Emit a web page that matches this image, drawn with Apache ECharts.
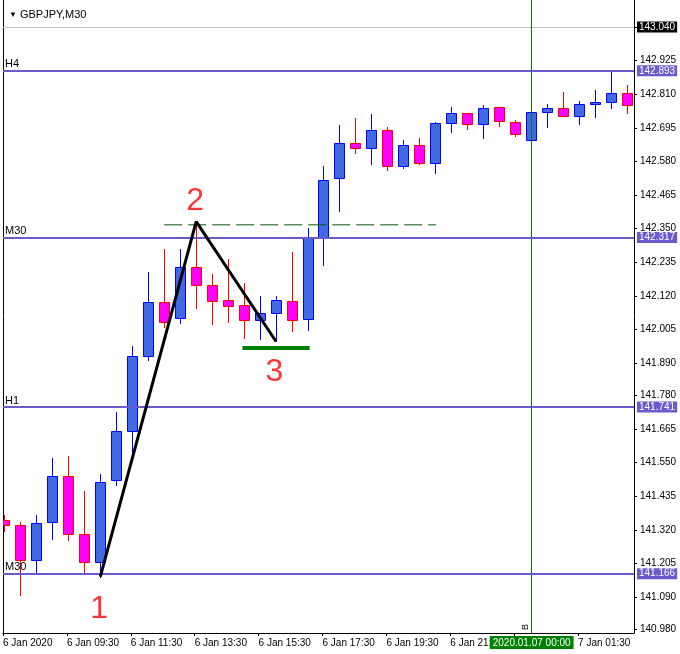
<!DOCTYPE html>
<html><head><meta charset="utf-8">
<script src="https://cdn.jsdelivr.net/npm/echarts@6/dist/echarts.min.js"></script>
<style>html,body{margin:0;padding:0;background:#fff}#c{width:680px;height:654px}</style>
</head><body><div id="c"></div><script>
const FONT = "'Liberation Sans',Arial,sans-serif";
const FS = 10;

// M30 bars, index 0 = 6 Jan 07:30
const opens  = [141.352,141.336,141.216,141.345,141.504,141.305,141.209,141.492,141.657,141.914,142.098,142.044,142.218,142.157,142.106,142.088,142.036,142.061,142.102,142.041,142.319,142.523,142.642,142.625,142.687,142.564,142.635,142.574,142.711,142.745,142.707,142.765,142.714,142.653,142.748,142.762,142.735,142.778,142.782,142.813];
const closes = [141.337,141.216,141.343,141.504,141.305,141.209,141.483,141.657,141.914,142.098,142.030,142.218,142.157,142.101,142.087,142.036,142.061,142.105,142.039,142.318,142.516,142.642,142.625,142.687,142.564,142.635,142.574,142.711,142.745,142.707,142.762,142.717,142.673,142.748,142.762,142.735,142.776,142.782,142.813,142.772];
const lows   = [141.316,141.097,141.177,141.289,141.286,141.173,141.160,141.474,141.587,141.901,142.015,142.027,142.077,142.025,142.031,141.977,141.974,141.964,142.001,142.005,142.226,142.412,142.607,142.572,142.552,142.559,142.572,142.542,142.679,142.692,142.661,142.702,142.668,142.652,142.696,142.734,142.707,142.733,142.761,142.747];
const highs  = [141.371,141.345,141.371,141.566,141.573,141.453,141.511,141.723,141.949,142.202,142.281,142.281,142.370,142.195,142.247,142.165,142.120,142.120,142.271,142.353,142.565,142.705,142.729,142.742,142.698,142.654,142.660,142.715,142.766,142.746,142.772,142.766,142.721,142.749,142.777,142.818,142.786,142.825,142.890,142.842];

const tickBars   = [0,4,8,12,16,20,24,28,32,36];
const tickLabels = ['6 Jan 2020','6 Jan 09:30','6 Jan 11:30','6 Jan 13:30','6 Jan 15:30','6 Jan 17:30','6 Jan 19:30','6 Jan 21:30','6 Jan 23:30','7 Jan 01:30'];
const priceTicks = [140.980,141.090,141.205,141.320,141.435,141.550,141.665,141.780,141.890,142.005,142.120,142.235,142.350,142.465,142.580,142.695,142.810,142.925,143.040];

const levelNames  = ['H4','M30','H1','M30'];
const levelValues = [142.893,142.317,141.741,141.166];
const lastPrice = 143.040;

const vlineBar = 33;
const vlineText = '2020.01.07 00:00';
const vlineName = 'B';

const zigzagBars   = [6,12,17];
const zigzagPrices = [141.160,142.374,141.964];
const dashBars  = [10,27];
const dashPrice = 142.363;
const supportBars  = [14.9,19.1];
const supportPrice = 141.942;
const waveTexts  = ['1','2','3'];
const waveBars   = [5.92,11.94,16.9];
const wavePrices = [141.050,142.445,141.860];

const X_MIN = -0.09375, X_MAX = 39.40625, TICK_SHIFT = -0.09375;
const Y_MIN = 140.967, Y_MAX = 143.132;
const CLEAR = 'rgba(0,0,0,0)';

const candleData = opens.map((o,i)=>[i,o,closes[i],lows[i],highs[i]]);

function renderCandle(params, api){
  const i=api.value(0), o=api.value(1), c=api.value(2), l=api.value(3), h=api.value(4);
  const pO=api.coord([i,o]), pC=api.coord([i,c]), pL=api.coord([i,l]), pH=api.coord([i,h]);
  const cx=Math.floor(pO[0])+0.5;
  const bull=c>=o;
  const stroke=bull?'#0000FF':'#FF0000';
  const fill=bull?'#4169E1':'#FF00FF';
  const top=Math.round(Math.min(pO[1],pC[1]))+0.5;
  const bot=Math.round(Math.max(pO[1],pC[1]))+0.5;
  const cs=params.coordSys;
  const rect=echarts.graphic.clipRectByRect({x:cx-5,y:top,width:10,height:Math.max(bot-top,0)},{x:cs.x,y:cs.y,width:cs.width,height:cs.height});
  const children=[{type:'line',shape:{x1:cx,y1:Math.round(pH[1]),x2:cx,y2:Math.round(pL[1])+1},style:{stroke:stroke,lineWidth:1}}];
  if(rect) children.push({type:'rect',shape:rect,style:{fill:fill,stroke:stroke,lineWidth:1}});
  return {type:'group',children:children};
}

const boxLabel = (text,bg)=>({show:true,position:'end',formatter:text,backgroundColor:bg,color:'#fff',
  padding:[1,2,0,2],distance:3,fontSize:FS,fontFamily:FONT});

const levelLines = levelValues.map((v,k)=>({yAxis:v,
  label:{show:true,position:'insideStartTop',formatter:levelNames[k],color:'#000',fontSize:11,fontFamily:FONT,distance:[2,1]}}));
const boxMarks = [{yAxis:lastPrice,label:boxLabel(lastPrice.toFixed(3),'#000')}]
  .concat(levelValues.map(v=>({yAxis:v,label:boxLabel(v.toFixed(3),'#6A5ACD')})))
  .concat([{xAxis:vlineBar,label:{show:true,position:'start',formatter:vlineText,backgroundColor:'#008000',color:'#fff',padding:[2,3,1,3],distance:3,fontSize:FS,fontFamily:FONT}},
           {xAxis:vlineBar,label:{show:true,position:'insideStartTop',formatter:vlineName,color:'#000',fontSize:9,fontFamily:FONT,distance:[3,2]}}]);

const option = {
  animation:false,
  backgroundColor:'#fff',
  title:{text:'{t|▼} GBPJPY,M30',left:4,top:4,textStyle:{fontSize:11,fontWeight:'normal',color:'#000',fontFamily:FONT,rich:{t:{fontSize:8,color:'#000'}}}},
  grid:{left:2,right:46,top:0,bottom:21},
  xAxis:{type:'value',min:X_MIN,max:X_MAX,splitLine:{show:false},
    axisLine:{show:true,onZero:false,lineStyle:{color:'#000',width:1}},
    axisTick:{show:true,length:3,lineStyle:{color:'#000'},customValues:tickBars.map(b=>b+TICK_SHIFT)},
    axisLabel:{customValues:tickBars.map(b=>b+TICK_SHIFT),align:'left',margin:5,color:'#000',fontSize:FS,fontFamily:FONT,
      formatter:v=>tickLabels[tickBars.indexOf(Math.round(v-TICK_SHIFT))]||''}},
  yAxis:[
    {type:'value',position:'right',min:Y_MIN,max:Y_MAX,splitLine:{show:false},
      axisLine:{show:true,onZero:false,lineStyle:{color:'#000',width:1}},
      axisTick:{show:true,length:3,lineStyle:{color:'#000'},customValues:priceTicks},
      axisLabel:{customValues:priceTicks,margin:6,color:'#000',fontSize:FS,fontFamily:FONT,formatter:v=>v.toFixed(3)}},
    {type:'value',position:'left',min:Y_MIN,max:Y_MAX,splitLine:{show:false},
      axisLine:{show:true,onZero:false,lineStyle:{color:'#000',width:1}},axisTick:{show:false},axisLabel:{show:false}}
  ],
  series:[
    {type:'custom',name:'GBPJPY',renderItem:renderCandle,data:candleData,encode:{x:0,y:[1,2,3,4]},clip:true,z:2},
    {type:'line',name:'top',data:[],z:4,markLine:{symbol:['none','none'],silent:true,animation:false,
      lineStyle:{color:'#c0c0c0',width:1,type:'solid'},label:{show:false},data:[{yAxis:lastPrice}]}},
    {type:'line',name:'vline',data:[],z:4,markLine:{symbol:['none','none'],silent:true,animation:false,
      lineStyle:{color:'#008000',width:1,type:'solid'},label:{show:false},data:[{xAxis:vlineBar}]}},
    {type:'line',name:'levels',data:[],z:5,markLine:{symbol:['none','none'],silent:true,animation:false,
      lineStyle:{color:'#6A5ACD',width:2,type:'solid'},data:levelLines}},
    {type:'line',name:'boxes',data:[],z:9,markLine:{symbol:['none','none'],silent:true,animation:false,
      lineStyle:{color:CLEAR,width:1,type:'solid'},data:boxMarks}},
    {type:'line',name:'dash',data:dashBars.map(b=>[b,dashPrice]),symbol:'none',z:6,
      lineStyle:{color:'#005a00',width:1,type:[18,6]}},
    {type:'line',name:'support',data:supportBars.map(b=>[b,supportPrice]),symbol:'none',z:6,
      lineStyle:{color:'#008000',width:4}},
    {type:'line',name:'zigzag',data:zigzagBars.map((b,k)=>[b,zigzagPrices[k]]),symbol:'none',z:7,
      lineStyle:{color:'#000',width:3}},
    {type:'scatter',name:'waves',symbolSize:0,z:8,
      data:waveTexts.map((t,k)=>({value:[waveBars[k],wavePrices[k]],label:{formatter:t}})),
      label:{show:true,position:'inside',color:'#FF0000',fontSize:32,fontFamily:"'Liberation Sans',Arial,sans-serif"}}
  ]
};
const chart = echarts.init(document.getElementById('c'));
chart.setOption(option);
</script></body></html>
